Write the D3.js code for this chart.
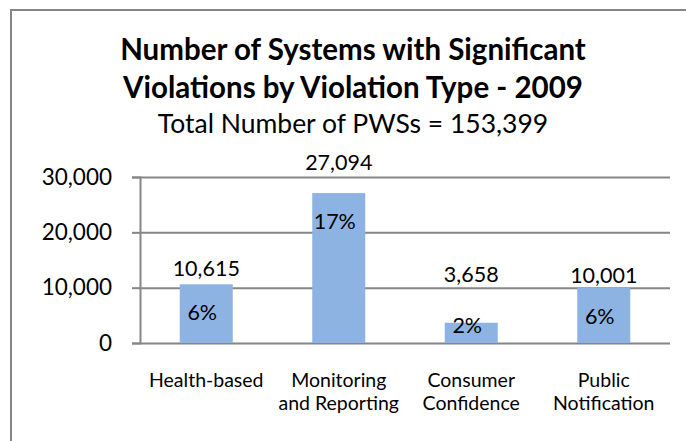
<!DOCTYPE html>
<html>
<head>
<meta charset="utf-8">
<script src="https://cdn.jsdelivr.net/npm/d3@7"></script>
<style>
  body { margin: 0; background: #fff; }
  svg { display: block; font-family: Lato, "Open Sans", sans-serif; }
</style>
</head>
<body>
<div id="chart"></div>
<script>
// Data
const categories = [["Health-based"], ["Monitoring", "and Reporting"], ["Consumer", "Confidence"], ["Public", "Notification"]];
const counts = [10615, 27094, 3658, 10001];
const shares = ["6%", "17%", "2%", "6%"];
const yTicks = [0, 10000, 20000, 30000];

// value labels were moved by hand in the original, so nudge them up a bit
const labelLift = [8, 23, 41, 5];

const width = 686;
const height = 441;
const margin = { top: 177, right: 16, bottom: 98, left: 140 };

const svg = d3.select("#chart")
              .append("svg")
              .attr("width", width)
              .attr("height", height);

// chart frame (only top and left edges are visible)
svg.append("path")
   .attr("d", `M11,${height} V10 H${width}`)
   .attr("fill", "none")
   .attr("stroke", "#868686")
   .attr("stroke-width", 2);

// titles
svg.append("text")
   .attr("x", 353).attr("y", 60)
   .attr("text-anchor", "middle")
   .attr("font-size", 29.5).attr("font-weight", "bold")
   .text("Number of Systems with Significant");
svg.append("text")
   .attr("x", 353).attr("y", 98)
   .attr("text-anchor", "middle")
   .attr("font-size", 29.5).attr("font-weight", "bold")
   .text("Violations by Violation Type - 2009");
svg.append("text")
   .attr("x", 353).attr("y", 133)
   .attr("text-anchor", "middle")
   .attr("font-size", 26.5)
   .text("Total Number of PWSs = 153,399");

// scales
const x = d3.scaleBand()
            .domain(d3.range(categories.length))
            .range([margin.left, width - margin.right])
            .padding(0);

const y = d3.scaleLinear()
            .domain([0, 30000])
            .range([height - margin.bottom, margin.top]);

const barW = x.bandwidth() * 0.4;

// gridlines + y axis
const yAxis = svg.append("g")
   .attr("transform", `translate(${margin.left}, 0)`)
   .call(d3.axisLeft(y)
           .tickValues(yTicks)
           .tickSize(8)
           .tickPadding(20)
           .tickFormat(d3.format(",")));
yAxis.select(".domain").attr("stroke", "#868686").attr("stroke-width", 2);
yAxis.selectAll(".tick line").attr("stroke", "#868686").attr("stroke-width", 2);
yAxis.selectAll(".tick text")
     .attr("font-family", "Lato, sans-serif")
     .attr("font-size", 22.5)
     .attr("fill", "#000");
yAxis.selectAll(".tick")
     .append("line")
     .attr("x1", 0)
     .attr("x2", width - margin.right - margin.left)
     .attr("stroke", "#868686")
     .attr("stroke-width", 2);

// bars
svg.selectAll(".bar")
   .data(counts)
   .enter()
   .append("rect")
   .attr("class", "bar")
   .attr("x", (d, i) => x(i) + (x.bandwidth() - barW) / 2)
   .attr("y", d => y(d))
   .attr("width", barW)
   .attr("height", d => y(0) - y(d))
   .attr("fill", "#8db3e2");

// value labels above bars
svg.selectAll(".value")
   .data(counts)
   .enter()
   .append("text")
   .attr("class", "value")
   .attr("x", (d, i) => x(i) + x.bandwidth() / 2)
   .attr("y", (d, i) => y(d) - labelLift[i])
   .attr("text-anchor", "middle")
   .attr("font-size", 21.5)
   .text(d => d3.format(",")(d));

// share labels inside bars
svg.selectAll(".share")
   .data(shares)
   .enter()
   .append("text")
   .attr("class", "share")
   .attr("x", (d, i) => x(i) + x.bandwidth() / 2 - 4)
   .attr("y", (d, i) => Math.min(y(counts[i]) + 36, y(0) - 10))
   .attr("text-anchor", "middle")
   .attr("font-size", 21.5)
   .text(d => d);

// category labels
const cat = svg.selectAll(".cat")
   .data(categories)
   .enter()
   .append("text")
   .attr("class", "cat")
   .attr("x", (d, i) => x(i) + x.bandwidth() / 2)
   .attr("y", 387)
   .attr("text-anchor", "middle")
   .attr("font-size", 19.5);
cat.selectAll("tspan")
   .data(d => d)
   .enter()
   .append("tspan")
   .attr("x", function () { return this.parentNode.getAttribute("x"); })
   .attr("dy", (d, i) => i === 0 ? 0 : 23)
   .text(d => d);
</script>
</body>
</html>
